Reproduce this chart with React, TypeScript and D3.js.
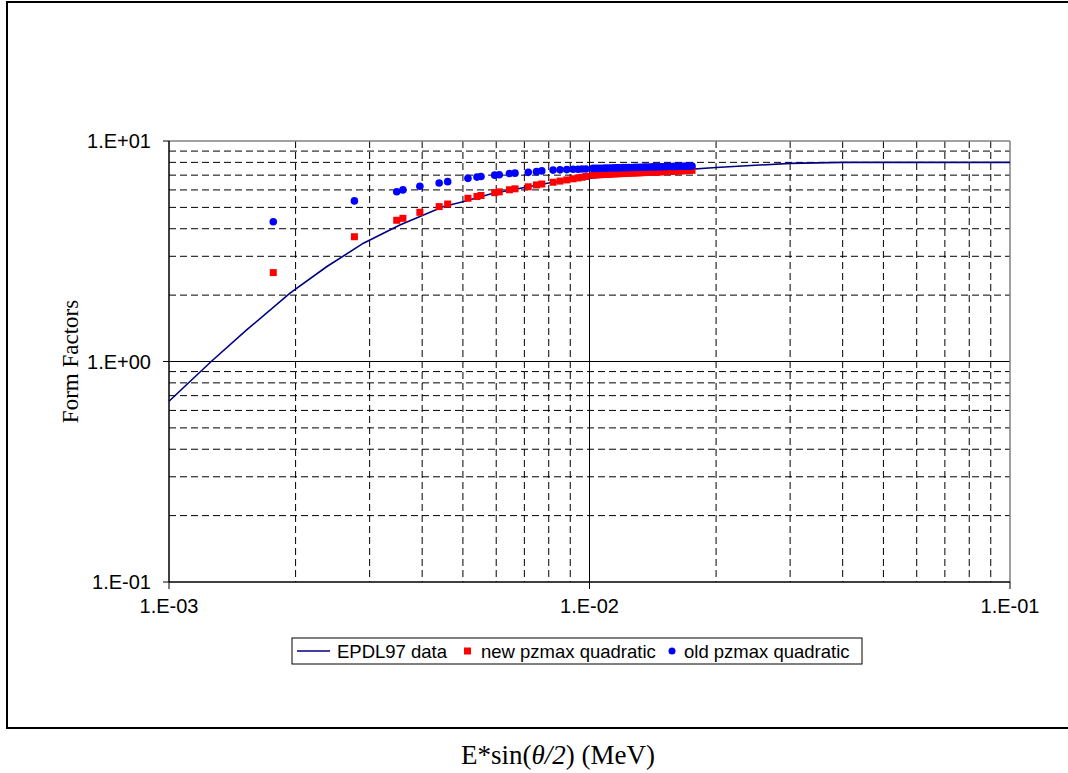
import React, { useEffect, useRef } from 'react';
import * as d3 from 'd3';

// EPDL97 tabulated form factor (log-log line)
const epdlX = [1e-3, 1.26e-3, 1.53e-3, 1.94e-3, 2.37e-3, 2.9e-3, 3.54e-3, 4.5e-3, 5e-3, 5.9e-3, 7e-3, 8e-3, 9.5e-3, 1e-2, 1.5e-2, 2e-2, 3e-2, 4e-2, 1e-1];
const epdlY = [0.66, 1.0, 1.39, 2.04, 2.69, 3.44, 4.16, 5.05, 5.3, 5.79, 6.15, 6.45, 6.71, 6.78, 7.3, 7.58, 7.92, 8.0, 8.0];

// sample points, shared abscissa for both pzmax series
const pointX = [
  1.77e-3, 2.76e-3, 3.48e-3, 3.6e-3, 3.95e-3, 4.39e-3, 4.6e-3, 5.14e-3, 5.4e-3, 5.52e-3,
  5.95e-3, 6.1e-3, 6.45e-3, 6.65e-3, 7.15e-3, 7.48e-3, 7.7e-3,
  8.19e-3, 8.51e-3, 8.83e-3, 9.14e-3, 9.39e-3, 9.6e-3, 9.81e-3,
  1.019e-2, 1.036e-2, 1.053e-2, 1.071e-2, 1.089e-2, 1.107e-2, 1.125e-2, 1.144e-2, 1.163e-2, 1.181e-2,
  1.202e-2, 1.221e-2, 1.241e-2, 1.262e-2, 1.283e-2, 1.304e-2, 1.326e-2, 1.348e-2, 1.37e-2, 1.393e-2,
  1.416e-2, 1.44e-2, 1.464e-2, 1.487e-2, 1.512e-2, 1.537e-2, 1.563e-2, 1.588e-2, 1.615e-2, 1.641e-2,
  1.669e-2, 1.697e-2, 1.724e-2, 1.753e-2,
];
const newPzmax = [
  2.53, 3.68, 4.37, 4.46, 4.75, 5.04, 5.18, 5.5, 5.6, 5.66,
  5.83, 5.88, 6.01, 6.07, 6.2, 6.32, 6.38,
  6.5, 6.58, 6.66, 6.74, 6.8, 6.85, 6.9,
  7.01, 7.02, 7.03, 7.04, 7.05, 7.06, 7.08, 7.09, 7.1, 7.11,
  7.12, 7.13, 7.14, 7.15, 7.16, 7.17, 7.18, 7.19, 7.2, 7.21,
  7.22, 7.23, 7.24, 7.25, 7.26, 7.27, 7.28, 7.29, 7.3, 7.31,
  7.32, 7.34, 7.35, 7.36,
];
const oldPzmax = [
  4.3, 5.35, 5.89, 6.0, 6.23, 6.45, 6.54, 6.77, 6.86, 6.9,
  7.0, 7.03, 7.12, 7.15, 7.21, 7.26, 7.32,
  7.38, 7.4, 7.42, 7.44, 7.45, 7.46, 7.47,
  7.51, 7.51, 7.52, 7.52, 7.53, 7.54, 7.54, 7.55, 7.55, 7.56,
  7.57, 7.57, 7.58, 7.58, 7.59, 7.6, 7.6, 7.61, 7.61, 7.62,
  7.63, 7.63, 7.64, 7.64, 7.65, 7.66, 7.66, 7.67, 7.67, 7.68,
  7.68, 7.69, 7.69, 7.7,
];

const xTicks = [1e-3, 1e-2, 1e-1];
const xTickLabels = ['1.E-03', '1.E-02', '1.E-01'];
const yTicks = [1e-1, 1e0, 1e1];
const yTickLabels = ['1.E-01', '1.E+00', '1.E+01'];
const legendLabels = ['EPDL97 data', 'new pzmax quadratic', 'old pzmax quadratic'];

export default function App() {
  const ref = useRef<SVGSVGElement>(null);

  useEffect(() => {
    const svg = d3.select(ref.current);
    svg.selectAll('*').remove();
    const left = 169, right = 1010, top = 141, bottom = 582;
    const sans = '"Liberation Sans", Arial, sans-serif';
    const serif = '"Liberation Serif", "Times New Roman", serif';

    const x = d3.scaleLog().domain([1e-3, 1e-1]).range([left, right]);
    const y = d3.scaleLog().domain([1e-1, 1e1]).range([bottom, top]);

    // outer chart border
    svg.append('rect')
      .attr('x', 7).attr('y', 2).attr('width', 1075).attr('height', 726)
      .attr('fill', 'white').attr('stroke', '#000').attr('stroke-width', 2);

    const g = svg.append('g');
    const minorX: number[] = [];
    const minorY: number[] = [];
    [1e-3, 1e-2].forEach(d => { for (let k = 2; k <= 9; k++) minorX.push(d * k); });
    [1e-1, 1e0].forEach(d => { for (let k = 2; k <= 9; k++) minorY.push(d * k); });

    g.selectAll('.mx').data(minorX).enter().append('line')
      .attr('x1', d => x(d)).attr('x2', d => x(d)).attr('y1', top).attr('y2', bottom)
      .attr('stroke', '#000').attr('stroke-width', 1).attr('stroke-dasharray', '7,4');
    g.selectAll('.my').data(minorY).enter().append('line')
      .attr('x1', left).attr('x2', right).attr('y1', d => y(d)).attr('y2', d => y(d))
      .attr('stroke', '#000').attr('stroke-width', 1).attr('stroke-dasharray', '7,4');

    // major grid
    g.append('line').attr('x1', x(1e-2)).attr('x2', x(1e-2)).attr('y1', top).attr('y2', bottom)
      .attr('stroke', '#000').attr('stroke-width', 1);
    g.append('line').attr('x1', left).attr('x2', right).attr('y1', y(1)).attr('y2', y(1))
      .attr('stroke', '#000').attr('stroke-width', 1);

    // frame
    g.append('line').attr('x1', left).attr('x2', right).attr('y1', top).attr('y2', top)
      .attr('stroke', '#808080').attr('stroke-width', 1.5);
    g.append('line').attr('x1', right).attr('x2', right).attr('y1', top).attr('y2', bottom)
      .attr('stroke', '#808080').attr('stroke-width', 1.5);
    g.append('line').attr('x1', left).attr('x2', left).attr('y1', top).attr('y2', bottom)
      .attr('stroke', '#000').attr('stroke-width', 1.5);
    g.append('line').attr('x1', left).attr('x2', right).attr('y1', bottom).attr('y2', bottom)
      .attr('stroke', '#000').attr('stroke-width', 1.5);

    // ticks
    g.selectAll('.tx').data(xTicks).enter().append('line')
      .attr('x1', d => x(d)).attr('x2', d => x(d)).attr('y1', bottom).attr('y2', bottom + 7)
      .attr('stroke', '#000');
    g.selectAll('.ty').data(yTicks).enter().append('line')
      .attr('x1', left - 6).attr('x2', left).attr('y1', d => y(d)).attr('y2', d => y(d))
      .attr('stroke', '#000');

    g.selectAll('.lx').data(xTicks).enter().append('text')
      .attr('x', d => x(d)).attr('y', bottom + 31)
      .attr('text-anchor', 'middle').style('font-family', sans).style('font-size', '20px')
      .text((d, i) => xTickLabels[i]);
    g.selectAll('.ly').data(yTicks).enter().append('text')
      .attr('x', left - 18).attr('y', d => y(d) + 7)
      .attr('text-anchor', 'end').style('font-family', sans).style('font-size', '20px')
      .text((d, i) => yTickLabels[i]);

    // EPDL97 line
    const line = d3.line<number>().x((d, i) => x(epdlX[i])).y(d => y(d));
    g.append('path').datum(epdlY).attr('d', line)
      .attr('fill', 'none').attr('stroke', '#000080').attr('stroke-width', 1.6);

    // new pzmax (red squares)
    g.selectAll('.sq').data(newPzmax).enter().append('rect')
      .attr('x', (d, i) => x(pointX[i]) - 3.5).attr('y', d => y(d) - 3.5)
      .attr('width', 7).attr('height', 7).attr('fill', '#ff0000');
    // old pzmax (blue dots)
    g.selectAll('.dot').data(oldPzmax).enter().append('circle')
      .attr('cx', (d, i) => x(pointX[i])).attr('cy', d => y(d)).attr('r', 3.8)
      .attr('fill', '#0000ff');

    // axis titles
    svg.append('text')
      .attr('transform', 'translate(78,' + y(1) + ') rotate(-90)')
      .attr('text-anchor', 'middle').style('font-family', serif).style('font-size', '23px')
      .text('Form Factors');
    const xt = svg.append('text').attr('x', 558).attr('y', 764)
      .attr('text-anchor', 'middle').style('font-family', serif).style('font-size', '27px');
    xt.append('tspan').text('E*sin(');
    xt.append('tspan').style('font-style', 'italic').text('θ/2');
    xt.append('tspan').text(') (MeV)');

    // legend
    const lg = svg.append('g');
    lg.append('rect').attr('x', 292).attr('y', 638).attr('width', 570).attr('height', 26)
      .attr('fill', 'white').attr('stroke', '#000').attr('stroke-width', 1);
    const ly = 651;
    lg.append('line').attr('x1', 297).attr('x2', 330).attr('y1', ly).attr('y2', ly)
      .attr('stroke', '#000080').attr('stroke-width', 1.6);
    lg.append('rect').attr('x', 464).attr('y', ly - 3.5).attr('width', 7).attr('height', 7).attr('fill', '#ff0000');
    lg.append('circle').attr('cx', 672).attr('cy', ly).attr('r', 3.5).attr('fill', '#0000ff');
    const lx = [337, 481, 684];
    lg.selectAll('.lt').data(legendLabels).enter().append('text')
      .attr('x', (d, i) => lx[i]).attr('y', ly + 6.5)
      .style('font-family', sans).style('font-size', '18.5px')
      .text(d => d);
  }, []);

  return (
    <svg ref={ref} width={1068} height={773}
      style={{ position: 'absolute', left: 0, top: 0, background: 'white' }} />
  );
}
